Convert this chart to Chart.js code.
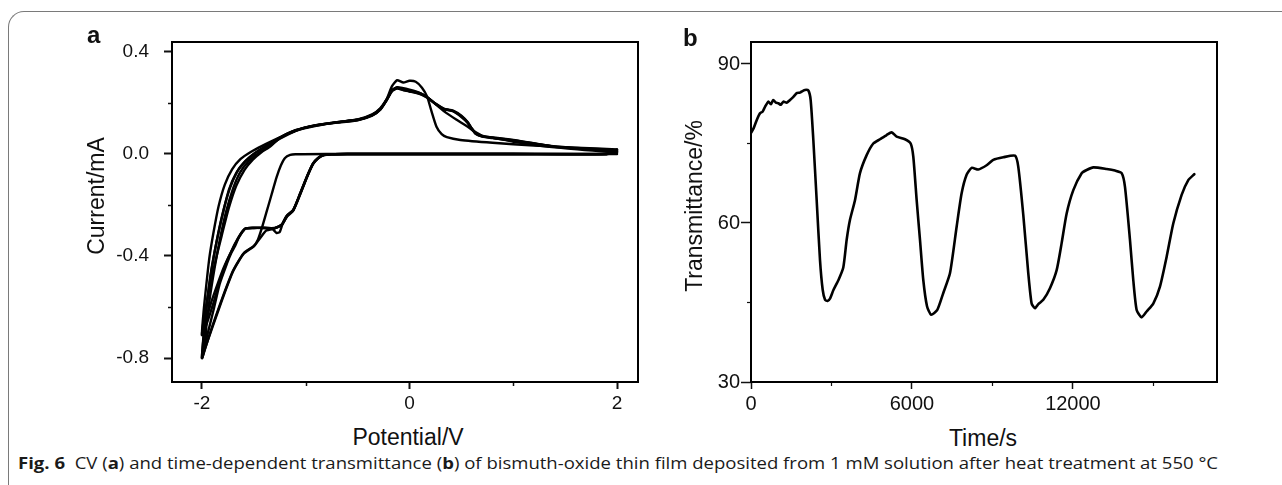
<!DOCTYPE html>
<html><head><meta charset="utf-8">
<script src="https://cdn.jsdelivr.net/npm/chart.js@4.4.1/dist/chart.umd.min.js"></script>
<style>
html,body{margin:0;padding:0;background:#fff;width:1282px;height:485px;overflow:hidden;}
#wrap{position:relative;width:1282px;height:485px;}
#border{position:absolute;left:8px;top:11px;width:1320px;height:520px;border-left:1px solid #7a7a7a;border-top:1px solid #7a7a7a;border-top-left-radius:16px;box-sizing:border-box;}
canvas{position:absolute;top:0;}
.t{position:absolute;font-family:"Liberation Sans",Arial,sans-serif;color:#111;white-space:nowrap;line-height:1;}
.ttl{font-size:23px;}
.rot{transform:translate(-50%,-50%) rotate(-90deg);}
.lab{font-weight:bold;font-size:24px;}
#cap{position:absolute;left:18px;top:455px;font-family:"Open Sans","Noto Sans",sans-serif;font-size:16px;line-height:16px;color:#1a1a1a;white-space:nowrap;display:inline-block;transform-origin:0 0;}
</style></head>
<body><div id="wrap">
<div id="border"></div>
<canvas id="ca" width="660" height="420" style="left:0;width:660px;height:420px;"></canvas>
<canvas id="cb" width="622" height="420" style="left:660px;width:622px;height:420px;"></canvas>
<div class="t lab" style="left:87px;top:23px;">a</div>
<div class="t lab" style="left:683px;top:26px;">b</div>
<div class="t ttl rot" style="left:96px;top:196px;">Current/mA</div>
<div class="t ttl" style="left:408px;top:426px;transform:translateX(-50%);">Potential/V</div>
<div class="t ttl rot" style="left:694px;top:206px;">Transmittance/%</div>
<div class="t ttl" style="left:983px;top:427px;transform:translateX(-50%);">Time/s</div>
<div id="cap"><b>Fig. 6</b>&nbsp; CV (<b>a</b>) and time-dependent transmittance (<b>b</b>) of bismuth-oxide thin film deposited from 1 mM solution after heat treatment at 550 °C</div>
</div>
<script>
// ---------- Panel a: cyclic voltammetry (5 cycles, potential V / current mA) ----------
const cycle1V = [2.0,1.9,1.0,0.0,-0.8,-1.1,-1.15,-1.2,-1.24,-1.28,-1.33,-1.38,-1.425,-1.46,-1.5,-1.6,-1.7,-1.8,-1.9,-1.96,-2.0,
  -1.98,-1.95,-1.91,-1.86,-1.8,-1.74,-1.67,-1.59,-1.5,-1.4,-1.25,-1.1,-0.9,-0.7,-0.5,-0.36,-0.28,-0.22,-0.17,-0.12,-0.06,0.0,0.06,0.12,0.17,0.21,0.26,0.31,0.36,0.49,0.8,1.2,1.6,2.0];
const cycle1I = [0.0,0.0,0.0,0.0,0.0,-0.001,-0.004,-0.016,-0.045,-0.09,-0.16,-0.23,-0.293,-0.335,-0.36,-0.39,-0.457,-0.56,-0.675,-0.75,-0.80,
  -0.70,-0.58,-0.46,-0.345,-0.235,-0.14,-0.075,-0.032,0.0,0.025,0.06,0.09,0.11,0.124,0.134,0.152,0.175,0.215,0.265,0.289,0.28,0.287,0.283,0.26,0.225,0.17,0.107,0.078,0.066,0.055,0.044,0.033,0.025,0.018];
const cycle2V = [2.0,1.9,1.0,0.0,-0.6,-0.75,-0.83,-0.88,-0.93,-0.99,-1.055,-1.12,-1.18,-1.22,-1.25,-1.28,-1.32,-1.4,-1.5,-1.58,-1.63,-1.68,-1.72,-1.77,-1.83,-1.89,-1.95,-2.0,
  -1.985,-1.96,-1.93,-1.89,-1.84,-1.78,-1.71,-1.63,-1.53,-1.42,-1.25,-1.1,-0.9,-0.7,-0.5,-0.36,-0.28,-0.22,-0.17,-0.12,-0.06,0.0,0.06,0.12,0.18,0.25,0.33,0.42,0.5,0.56,0.6,0.64,0.7,0.8,1.0,1.4,2.0];
const cycle2I = [0.018,0.0,0.0,0.0,0.0,-0.001,-0.004,-0.015,-0.037,-0.09,-0.155,-0.22,-0.24,-0.27,-0.305,-0.31,-0.295,-0.29,-0.29,-0.292,-0.315,-0.35,-0.385,-0.43,-0.5,-0.585,-0.66,-0.71,
  -0.62,-0.52,-0.41,-0.31,-0.205,-0.12,-0.06,-0.02,0.008,0.032,0.065,0.093,0.113,0.125,0.135,0.155,0.18,0.215,0.25,0.26,0.253,0.247,0.242,0.235,0.22,0.198,0.178,0.17,0.15,0.125,0.1,0.08,0.07,0.065,0.055,0.03,0.015];
const cycle3V = [2.0,1.9,1.0,0.0,-0.6,-0.75,-0.83,-0.88,-0.93,-0.99,-1.055,-1.12,-1.18,-1.23,-1.3,-1.4,-1.5,-1.585,-1.64,-1.68,-1.72,-1.76,-1.83,-1.89,-1.955,-2.0,
  -1.965,-1.93,-1.88,-1.83,-1.77,-1.7,-1.63,-1.55,-1.46,-1.36,-1.25,-1.1,-0.9,-0.7,-0.5,-0.36,-0.28,-0.22,-0.17,-0.12,-0.06,0.0,0.06,0.12,0.18,0.25,0.33,0.42,0.5,0.56,0.6,0.64,0.7,0.8,1.0,1.4,2.0];
const cycle3I = [0.015,0.0,0.0,0.0,0.0,-0.001,-0.005,-0.017,-0.04,-0.093,-0.16,-0.222,-0.245,-0.278,-0.291,-0.289,-0.289,-0.293,-0.322,-0.36,-0.39,-0.43,-0.51,-0.614,-0.72,-0.80,
  -0.70,-0.58,-0.45,-0.34,-0.23,-0.135,-0.07,-0.028,0.002,0.027,0.062,0.091,0.112,0.123,0.132,0.15,0.175,0.21,0.245,0.256,0.25,0.245,0.24,0.232,0.218,0.196,0.176,0.168,0.145,0.122,0.098,0.078,0.068,0.062,0.052,0.028,0.01];
const cycle4V = [2.0,1.9,1.0,0.0,-0.6,-0.75,-0.83,-0.88,-0.93,-0.99,-1.055,-1.12,-1.18,-1.23,-1.3,-1.38,-1.44,-1.5,-1.6,-1.7,-1.8,-1.9,-1.96,-2.0,
  -1.98,-1.95,-1.91,-1.86,-1.8,-1.73,-1.66,-1.58,-1.49,-1.39,-1.25,-1.1,-0.9,-0.7,-0.5,-0.36,-0.28,-0.22,-0.17,-0.12,-0.06,0.0,0.06,0.12,0.17,0.25,0.35,0.45,0.55,0.62,0.7,0.85,1.0,1.4,2.0];
const cycle4I = [0.01,0.0,0.0,0.0,0.0,-0.001,-0.004,-0.016,-0.038,-0.09,-0.157,-0.218,-0.242,-0.276,-0.292,-0.30,-0.33,-0.362,-0.392,-0.46,-0.565,-0.68,-0.75,-0.80,
  -0.69,-0.575,-0.455,-0.345,-0.232,-0.133,-0.068,-0.027,0.004,0.03,0.064,0.092,0.112,0.124,0.133,0.152,0.177,0.212,0.248,0.262,0.258,0.252,0.245,0.235,0.223,0.196,0.162,0.135,0.11,0.09,0.072,0.06,0.048,0.026,0.005];
const cycle5V = [2.0,1.9,1.0,0.0,-0.6,-0.75,-0.83,-0.88,-0.93,-0.99,-1.055,-1.12,-1.18,-1.23,-1.3,-1.4,-1.5,-1.58,-1.63,-1.68,-1.73,-1.79,-1.85,-1.91,-1.96,-2.0,
  -1.975,-1.93,-1.87,-1.81,-1.74,-1.67,-1.59,-1.51,-1.43,-1.34,-1.25,-1.1,-0.9,-0.7,-0.5,-0.36,-0.28,-0.22,-0.17,-0.12,-0.06,0.0,0.06,0.12,0.18,0.25,0.33,0.42,0.5,0.56,0.6,0.64,0.7,0.8,1.0,1.4,2.0];
const cycle5I = [0.005,0.0,0.0,0.0,0.0,-0.001,-0.004,-0.016,-0.039,-0.092,-0.158,-0.22,-0.243,-0.277,-0.29,-0.29,-0.29,-0.292,-0.318,-0.352,-0.392,-0.445,-0.51,-0.58,-0.65,-0.71,
  -0.63,-0.53,-0.42,-0.32,-0.21,-0.125,-0.062,-0.022,0.006,0.03,0.063,0.092,0.113,0.125,0.134,0.153,0.178,0.212,0.248,0.258,0.252,0.246,0.241,0.234,0.22,0.197,0.177,0.168,0.148,0.124,0.1,0.079,0.069,0.064,0.054,0.029,0.012];

const cvTicksX = [-2, 0, 2];
const cvMinorX = [-1, 1];
const cvTicksY = [-0.8, -0.4, 0, 0.4];
const cvMinorY = [-0.6, -0.2, 0.2];

// ---------- Panel b: transmittance vs time ----------
const timeS = [0,100,212,335,430,522,646,740,832,930,1019,1110,1205,1330,1454,1580,1702,1826,1920,2013,
  2137,2224,2323,2448,2572,2672,2760,2850,2950,3068,3265,3440,3565,3690,3876,4062,4311,4559,4808,5056,
  5243,5429,5740,5951,6050,6175,6299,6423,6561,6714,6944,7168,7416,7665,7851,8037,8225,8472,8783,9030,
  9403,9839,9963,10150,10336,10460,10585,10709,10895,11144,11393,11579,11766,12014,12325,12511,12760,13257,13567,13816,
  13940,14126,14250,14375,14561,14747,14995,15244,15492,15740,16052,16300,16523];
const transmittance = [77.0,77.9,79.4,80.7,81.0,81.9,82.9,82.4,83.2,82.7,82.6,82.3,82.9,82.7,83.2,83.8,84.5,84.6,84.9,85.1,
  85.0,83.2,75.7,64.3,53.0,47.4,45.5,45.3,45.8,47.3,49.3,51.6,56.8,60.6,64.3,69.4,72.8,75.0,75.8,76.6,
  77.1,76.3,75.8,75.0,72.5,64.3,56.8,49.2,44.3,42.7,43.6,46.8,50.5,59.3,65.6,69.1,70.4,70.1,70.9,71.9,
  72.4,72.7,70.6,61.5,50.5,44.8,43.9,44.7,45.5,47.7,51.1,56.2,61.8,66.2,69.4,70.0,70.5,70.2,69.9,69.4,
  66.8,56.8,49.2,43.6,42.2,43.3,44.8,48.0,53.6,59.9,65.3,68.1,69.2];

const tTicksX = [0, 6000, 12000];
const tMinorX = [3000, 9000, 15000];
const tTicksY = [30, 60, 90];
const tMinorY = [45, 75];

// ---------- helpers ----------
const framePlugin = {
  id: 'frameMinor',
  afterDraw(chart, args, o) {
    const ctx = chart.ctx, a = chart.chartArea, sx = chart.scales.x, sy = chart.scales.y;
    ctx.save();
    ctx.strokeStyle = '#111';
    ctx.lineWidth = o.minorWidth;
    (o.minorX || []).forEach(v => {
      const p = Math.round(sx.getPixelForValue(v)) + 0.5;
      ctx.beginPath(); ctx.moveTo(p, a.bottom); ctx.lineTo(p, a.bottom + o.minorLen); ctx.stroke();
    });
    (o.minorY || []).forEach(v => {
      const p = Math.round(sy.getPixelForValue(v)) + 0.5;
      ctx.beginPath(); ctx.moveTo(a.left, p); ctx.lineTo(a.left - o.minorLen, p); ctx.stroke();
    });
    ctx.strokeStyle = '#000';
    ctx.lineWidth = 2;
    ctx.strokeRect(a.left, a.top, a.right - a.left, a.bottom - a.top);
    ctx.restore();
  }
};

function pts(xs, ys) { return xs.map((x, i) => ({ x: x, y: ys[i] })); }
function lineDs(xs, ys, w, ten) {
  return { data: pts(xs, ys), showLine: true, borderColor: '#000', borderWidth: w, pointRadius: 0, tension: ten, fill: false, borderJoinStyle: 'round', borderCapStyle: 'round' };
}
function setTicks(vals) { return s => { s.ticks = vals.map(v => ({ value: v })); }; }

const FONT = '"Liberation Sans", Arial, sans-serif';

function axisCfg(min, max, ticks, fontSize, tickLen, tickW, pad, fitSize, isX, fmt) {
  return {
    type: 'linear', min: min, max: max,
    afterBuildTicks: setTicks(ticks),
    afterFit: s => { if (isX) s.height = fitSize; else s.width = fitSize; },
    border: { display: false },
    grid: { display: true, drawOnChartArea: false, drawTicks: true, tickLength: tickLen, tickWidth: tickW, tickColor: '#111' },
    ticks: { autoSkip: false, maxRotation: 0, padding: pad, color: '#111', font: { family: FONT, size: fontSize }, callback: fmt }
  };
}

// Panel a
new Chart(document.getElementById('ca'), {
  type: 'scatter',
  data: { datasets: [
    lineDs(cycle1V, cycle1I, 2.4, 0.2), lineDs(cycle2V, cycle2I, 2.4, 0.2), lineDs(cycle3V, cycle3I, 2.4, 0.2),
    lineDs(cycle4V, cycle4I, 2.4, 0.2), lineDs(cycle5V, cycle5I, 2.4, 0.2)
  ] },
  options: {
    responsive: false, animation: false, devicePixelRatio: 1,
    layout: { padding: { top: 42, right: 22, left: 0, bottom: 0 } },
    plugins: { legend: { display: false }, tooltip: { enabled: false },
      frameMinor: { minorX: cvMinorX, minorY: cvMinorY, minorLen: 4, minorWidth: 1.5 } },
    scales: {
      x: axisCfg(-2.289, 2.202, cvTicksX, 19, 7, 2, 3, 38, true, v => String(v)),
      y: axisCfg(-0.894, 0.439, cvTicksY, 19, 8, 2, 15, 172, false, v => Number(v).toFixed(1))
    }
  },
  plugins: [framePlugin]
});

// Panel b
new Chart(document.getElementById('cb'), {
  type: 'scatter',
  data: { datasets: [ lineDs(timeS, transmittance, 2.6, 0.2) ] },
  options: {
    responsive: false, animation: false, devicePixelRatio: 1,
    layout: { padding: { top: 42, right: 65, left: 0, bottom: 0 } },
    plugins: { legend: { display: false }, tooltip: { enabled: false },
      frameMinor: { minorX: tMinorX, minorY: tMinorY, minorLen: 4, minorWidth: 1.2 } },
    scales: {
      x: axisCfg(0, 17370, tTicksX, 20, 7, 1.5, 3, 38, true, v => String(v)),
      y: axisCfg(30, 94.15, tTicksY, 20, 10, 1.5, 1, 91, false, v => String(v))
    }
  },
  plugins: [framePlugin]
});

// fit caption to the reference width
function fitCap() {
  const c = document.getElementById('cap');
  c.style.transform = 'none';
  const w = c.getBoundingClientRect().width;
  c.style.transform = 'scaleX(' + (1200 / w) + ')';
}
fitCap();
if (document.fonts && document.fonts.ready) document.fonts.ready.then(fitCap);
</script>
</body></html>
